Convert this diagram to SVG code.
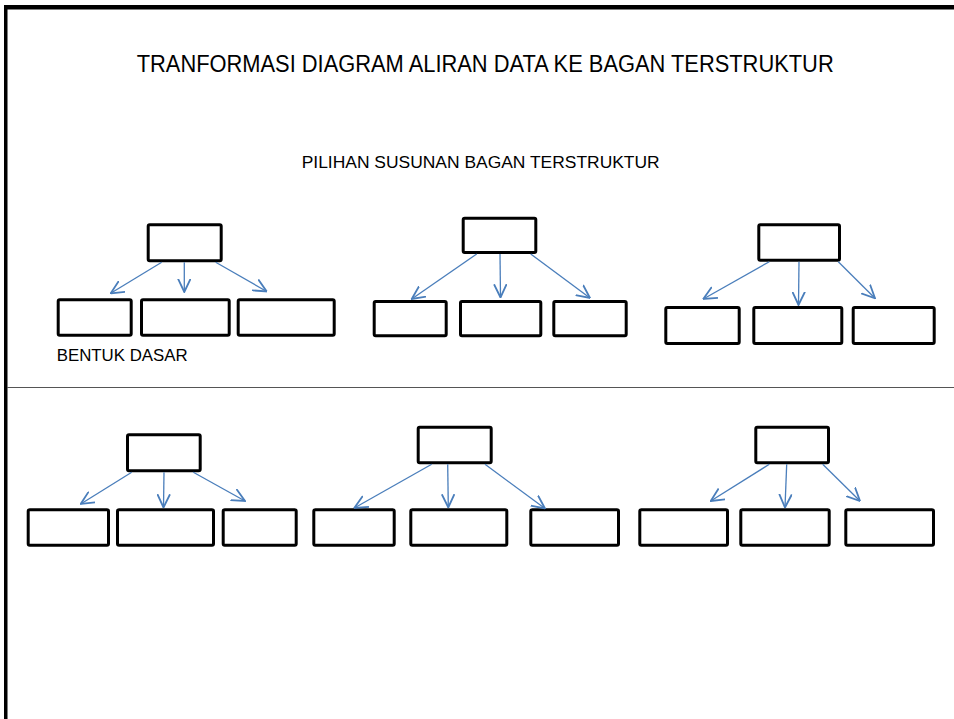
<svg xmlns="http://www.w3.org/2000/svg" width="954" height="719" viewBox="0 0 954 719">
<style>
.box{fill:#fff;stroke:#000;stroke-width:3}
.arr{fill:none;stroke:#4a7ebb;stroke-width:1.3;marker-end:url(#ah)}
.t{font-family:"Liberation Sans",Arial,sans-serif;fill:#000}
</style>
<defs>
<marker id="ah" markerUnits="userSpaceOnUse" markerWidth="14" markerHeight="14" viewBox="0 0 10 10" refX="9.5" refY="5" orient="auto">
<path d="M0,0.5 L9.5,5 L0,9.5" fill="none" stroke="#4a7ebb" stroke-width="1.3"/>
</marker>
</defs>
<rect x="0" y="0" width="954" height="719" fill="#fff"/>
<g id="frame">
<rect x="4" y="5" width="950" height="4.5" fill="#000"/>
<rect x="4" y="5" width="3.5" height="714" fill="#000"/>
<line x1="7" y1="387.5" x2="954" y2="387.5" stroke="#555" stroke-width="1.2"/>
</g>
<g id="title"><text class="t" x="136.7" y="72" font-size="23" textLength="697" lengthAdjust="spacingAndGlyphs">TRANFORMASI DIAGRAM ALIRAN DATA KE BAGAN TERSTRUKTUR</text></g>
<g id="subtitle"><text class="t" x="301.7" y="168.3" font-size="16" textLength="358" lengthAdjust="spacingAndGlyphs">PILIHAN SUSUNAN BAGAN TERSTRUKTUR</text></g>
<g id="label-bentuk-dasar"><text class="t" x="56.7" y="360.7" font-size="17" textLength="131" lengthAdjust="spacingAndGlyphs">BENTUK DASAR</text></g>

<g id="g1-parent"><rect class="box" x="148.2" y="224.8" width="73" height="36" rx="1.5"/></g>
<g id="g1-child1"><rect class="box" x="58.2" y="299.8" width="73" height="35.4" rx="1.5"/></g>
<g id="g1-child2"><rect class="box" x="141.5" y="299.8" width="87.7" height="35.4" rx="1.5"/></g>
<g id="g1-child3"><rect class="box" x="238.2" y="299.8" width="96" height="35.4" rx="1.5"/></g>

<g id="g2-parent"><rect class="box" x="463.2" y="218.2" width="72.6" height="34.3" rx="1.5"/></g>
<g id="g2-child1"><rect class="box" x="374.2" y="301.5" width="72" height="34.3" rx="1.5"/></g>
<g id="g2-child2"><rect class="box" x="460.5" y="301.5" width="80.3" height="34.3" rx="1.5"/></g>
<g id="g2-child3"><rect class="box" x="553.8" y="301.5" width="72.4" height="34.3" rx="1.5"/></g>

<g id="g3-parent"><rect class="box" x="758.8" y="224.8" width="80.7" height="35.4" rx="1.5"/></g>
<g id="g3-child1"><rect class="box" x="665.8" y="307.5" width="73.4" height="36" rx="1.5"/></g>
<g id="g3-child2"><rect class="box" x="753.8" y="307.5" width="88" height="36" rx="1.5"/></g>
<g id="g3-child3"><rect class="box" x="853.2" y="307.5" width="81" height="36" rx="1.5"/></g>

<g id="g4-parent"><rect class="box" x="127.5" y="434.8" width="72.7" height="36" rx="1.5"/></g>
<g id="g4-child1"><rect class="box" x="28.2" y="509.8" width="80.3" height="35.4" rx="1.5"/></g>
<g id="g4-child2"><rect class="box" x="117.5" y="509.8" width="96" height="35.4" rx="1.5"/></g>
<g id="g4-child3"><rect class="box" x="223.2" y="509.8" width="73" height="35.4" rx="1.5"/></g>

<g id="g5-parent"><rect class="box" x="418.2" y="427.2" width="73" height="35.6" rx="1.5"/></g>
<g id="g5-child1"><rect class="box" x="313.8" y="509.8" width="80.4" height="35.4" rx="1.5"/></g>
<g id="g5-child2"><rect class="box" x="410.8" y="509.8" width="96" height="35.4" rx="1.5"/></g>
<g id="g5-child3"><rect class="box" x="530.8" y="509.8" width="87.7" height="35.4" rx="1.5"/></g>

<g id="g6-parent"><rect class="box" x="755.8" y="427.2" width="72.7" height="35.6" rx="1.5"/></g>
<g id="g6-child1"><rect class="box" x="639.8" y="509.8" width="87.7" height="35.4" rx="1.5"/></g>
<g id="g6-child2"><rect class="box" x="740.8" y="509.8" width="88.4" height="35.4" rx="1.5"/></g>
<g id="g6-child3"><rect class="box" x="845.8" y="509.8" width="87.7" height="35.4" rx="1.5"/></g>

<g id="connectors">
<line class="arr" x1="161.7" y1="262.3" x2="110.7" y2="293.3"/>
<line class="arr" x1="184.3" y1="262.3" x2="184.3" y2="292"/>
<line class="arr" x1="215.7" y1="262.3" x2="266.7" y2="291.5"/>

<line class="arr" x1="476.7" y1="254" x2="411.7" y2="299"/>
<line class="arr" x1="500" y1="254" x2="500.5" y2="297.5"/>
<line class="arr" x1="530.7" y1="254" x2="590" y2="298"/>

<line class="arr" x1="769.3" y1="261.7" x2="703.3" y2="299"/>
<line class="arr" x1="799" y1="261.7" x2="798.5" y2="305"/>
<line class="arr" x1="838.3" y1="261.7" x2="875" y2="298.3"/>

<line class="arr" x1="131.7" y1="472.3" x2="80.7" y2="504"/>
<line class="arr" x1="164" y1="472.3" x2="163.5" y2="507.5"/>
<line class="arr" x1="193.3" y1="472.3" x2="245" y2="501"/>

<line class="arr" x1="431.7" y1="464.3" x2="354.3" y2="508"/>
<line class="arr" x1="447.7" y1="464.3" x2="448.3" y2="507.5"/>
<line class="arr" x1="485" y1="464.3" x2="545" y2="508.5"/>

<line class="arr" x1="769.3" y1="464.3" x2="710.7" y2="501"/>
<line class="arr" x1="786.7" y1="464.3" x2="785" y2="507.5"/>
<line class="arr" x1="822.7" y1="464.3" x2="860" y2="501"/>
</g>
</svg>
